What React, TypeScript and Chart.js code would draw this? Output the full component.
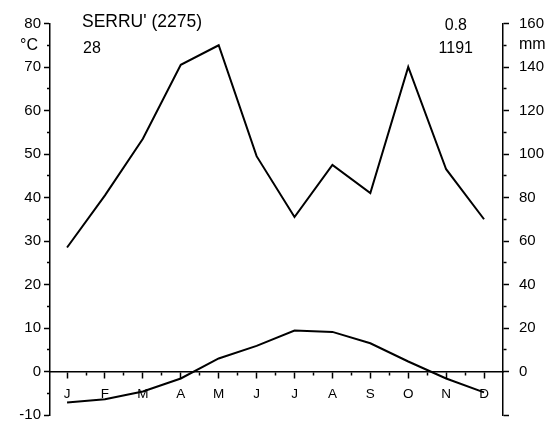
import { useEffect, useRef } from "react";
import { Chart, registerables } from "chart.js";

Chart.register(...registerables);

const months = ["J", "F", "M", "A", "M", "J", "J", "A", "S", "O", "N", "D"];
const temperature = [-7.1, -6.4, -4.6, -1.6, 3.0, 5.9, 9.4, 9.1, 6.5, 2.3, -1.6, -4.8];
const precipitation = [57, 81, 107, 141, 150, 99, 71, 95, 82, 140, 93, 70];
const tempTicks = [-10, 0, 10, 20, 30, 40, 50, 60, 70, 80];
const precipTicks = [0, 20, 40, 60, 80, 100, 120, 140, 160];
const stationName = "SERRU' (2275)";
const stationYears = "28";
const annualTemp = "0.8";
const annualPrecip = "1191";
const tempUnit = "°C";
const precipUnit = "mm";

const FONT = '"Liberation Sans", Arial, Helvetica, sans-serif';

const textPlugin = {
  id: "climateText",
  afterDraw(chart: any) {
    const ctx = chart.ctx;
    ctx.save();
    ctx.fillStyle = "#000";
    ctx.textBaseline = "middle";
    ctx.textAlign = "left";
    ctx.font = `17.5px ${FONT}`;
    ctx.fillText(stationName, 82, 22);
    ctx.font = `16px ${FONT}`;
    ctx.fillText(stationYears, 83, 49);
    ctx.fillText(precipUnit, 519, 45);
    ctx.textAlign = "right";
    ctx.fillText(annualTemp, 467, 26);
    ctx.fillText(annualPrecip, 473, 49);
    ctx.fillText(tempUnit, 38, 46);
    ctx.restore();
  },
};

export default function App() {
  const ref = useRef<HTMLCanvasElement | null>(null);

  useEffect(() => {
    if (!ref.current) return;
    const chart = new Chart(ref.current, {
      type: "line",
      data: {
        datasets: [
          {
            label: "Precipitation",
            data: months.map((_, i) => ({ x: i + 1, y: precipitation[i] })),
            xAxisID: "x",
            yAxisID: "y2",
            borderColor: "#000",
            borderWidth: 2,
            pointRadius: 0,
            tension: 0,
            fill: false,
          },
          {
            label: "Temperature",
            data: months.map((_, i) => ({ x: i + 1, y: temperature[i] })),
            xAxisID: "x",
            yAxisID: "y",
            borderColor: "#000",
            borderWidth: 2,
            pointRadius: 0,
            tension: 0,
            fill: false,
          },
        ],
      },
      options: {
        animation: false,
        responsive: true,
        maintainAspectRatio: false,
        layout: { padding: { top: 23.5, bottom: 7, left: 0, right: 0 } },
        plugins: { legend: { display: false }, tooltip: { enabled: false } },
        scales: {
          x: {
            type: "linear",
            min: 0.55,
            max: 12.5,
            position: { y: 0 } as any,
            afterBuildTicks: (s: any) => {
              const t: any[] = [];
              for (let i = 1; i <= months.length; i++) {
                t.push({ value: i });
                if (i < months.length) t.push({ value: i + 0.5 });
              }
              s.ticks = t;
            },
            ticks: {
              autoSkip: false,
              maxRotation: 0,
              padding: 9,
              color: "#000",
              font: { size: 13.5, family: FONT },
              callback: (v: any) => (Number.isInteger(v) ? months[v - 1] : ""),
            },
            grid: {
              drawOnChartArea: false,
              drawTicks: true,
              tickLength: 6,
              tickColor: "#000",
              tickWidth: 1.5,
              tickBorderDash: (c: any) => (Number.isInteger(c.tick?.value) ? [] : [3, 100]),
            },
            border: { display: true, color: "#000", width: 1.5 },
          },
          y: {
            type: "linear",
            position: "left",
            min: -10,
            max: 80,
            afterBuildTicks: (s: any) => {
              const t: any[] = [];
              for (let v = -10; v <= 80; v += 5) t.push({ value: v });
              s.ticks = t;
            },
            afterFit: (s: any) => {
              s.width = 50;
              s.paddingTop = 0;
              s.paddingBottom = 0;
            },
            ticks: {
              autoSkip: false,
              padding: 3,
              color: "#000",
              font: { size: 15, family: FONT },
              callback: (v: any) => (tempTicks.includes(v) ? String(v) : ""),
            },
            grid: {
              drawOnChartArea: false,
              tickLength: 6,
              tickColor: "#000",
              tickWidth: 1.5,
              tickBorderDash: (c: any) => (tempTicks.includes(c.tick?.value) ? [] : [0, 3, 3, 100]),
            },
            border: { display: true, color: "#000", width: 1.5 },
          },
          y2: {
            type: "linear",
            position: "right",
            min: -20,
            max: 160,
            afterBuildTicks: (s: any) => {
              const t: any[] = [];
              for (let v = -20; v <= 160; v += 10) if (v !== -10) t.push({ value: v });
              s.ticks = t;
            },
            afterFit: (s: any) => {
              s.width = 57;
              s.paddingTop = 0;
              s.paddingBottom = 0;
            },
            ticks: {
              autoSkip: false,
              padding: 10,
              color: "#000",
              font: { size: 15, family: FONT },
              callback: (v: any) => (precipTicks.includes(v) ? String(v) : ""),
            },
            grid: {
              drawOnChartArea: false,
              tickLength: 6,
              tickColor: "#000",
              tickWidth: 1.5,
              tickBorderDash: (c: any) => {
                const v = c.tick?.value;
                return precipTicks.includes(v) || v === -20 ? [] : [3, 100];
              },
            },
            border: { display: true, color: "#000", width: 1.5 },
          },
        },
      },
      plugins: [textPlugin],
    });
    return () => chart.destroy();
  }, []);

  return (
    <div style={{ position: "absolute", left: 0, top: 0, width: 560, height: 422, background: "#fff" }}>
      <canvas ref={ref} />
    </div>
  );
}
